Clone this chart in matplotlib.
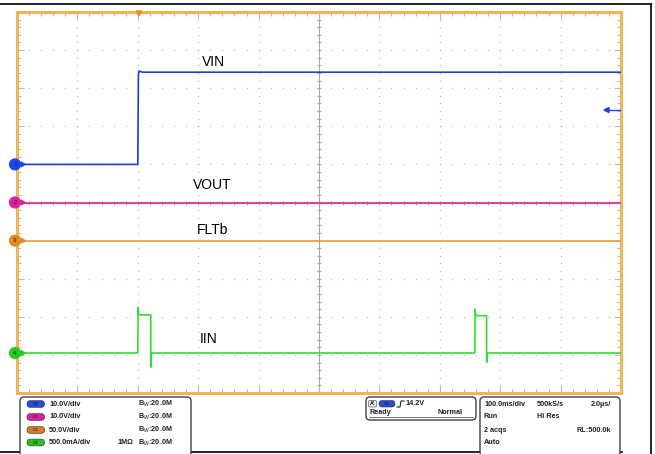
import numpy as np
import matplotlib
matplotlib.use("Agg")
import matplotlib.pyplot as plt
from matplotlib.patches import FancyBboxPatch, Circle, Polygon

plt.rcParams['font.family'] = ['Liberation Sans', 'DejaVu Sans']

# ---------------- data (time in ms, level in divisions) ----------------
vin_t = [-200, 0, 1, 2, 8, 800]
vin_y = [6.0, 6.0, 8.35, 8.45, 8.42, 8.42]
vout_t = [-200, 800]
vout_y = [5.0, 5.0]
fltb_t = [-200, 800]
fltb_y = [4.0, 4.0]
iin_t = [-200, 0, 0.5, 1.5, 3, 21.5, 21.5, 22.0, 22.5, 558, 558.5, 559.5, 561, 577.5, 577.5, 578, 578.5, 800]
iin_y = [1.05, 1.05, 2.25, 2.07, 2.05, 2.05, 0.68, 0.68, 1.05, 1.05, 2.2, 2.05, 2.03, 2.03, 0.81, 0.81, 1.05, 1.05]

labels = ["VIN", "VOUT", "FLTb", "IIN"]
label_pos = [(126, 8.68), (123, 5.45), (123, 4.28), (117, 1.42)]
ch_levels = [6.0, 5.0, 4.0, 1.05]
ch_names = ["1", "2", "3", "4"]
ch_colors = ['#1f3fd6', '#d8289e', '#ee9a2e', '#33dd33']
marker_colors = ['#1e46e8', '#e0209a', '#e08a28', '#22cc22']

ch_scales = ["10.0V/div", "10.0V/div", "50.0V/div", "500.0mA/div"]
ch_bw = ["B$_W$:20.0M"] * 4
trigger_text = "14.2V"
acq_rows = [("100.0ms/div", "500kS/s", "2.0µs/"),
            ("Run", "Hi Res", ""),
            ("2 acqs", "", "RL:500.0k"),
            ("Auto", "", "")]

W, H = 655, 454
fig = plt.figure(figsize=(W / 100, H / 100), dpi=100)

# pixel geometry of the graticule
L, R, T, B = 17, 621, 12, 393
ax = fig.add_axes([L / W, 1 - B / H, (R - L) / W, (B - T) / H])
ax.set_xlim(-200, 800)
ax.set_ylim(0, 10)
frame_col = '#f0b45a'
for s in ax.spines.values():
    s.set_color(frame_col)
    s.set_linewidth(2.2)
ax.xaxis.set_major_locator(plt.MultipleLocator(100))
ax.xaxis.set_minor_locator(plt.MultipleLocator(20))
ax.yaxis.set_major_locator(plt.MultipleLocator(1))
ax.yaxis.set_minor_locator(plt.MultipleLocator(0.2))
ax.tick_params(which='both', direction='in', top=True, right=True, bottom=True, left=True,
               labelbottom=False, labelleft=False, color='#b8b8b8', width=0.8)
ax.tick_params(which='major', length=5)
ax.tick_params(which='minor', length=3)

# dotted graticule
gc = '#c0c0c0'
majx = np.arange(-100, 800, 100)
majy = np.arange(1, 10, 1)
minx = np.arange(-200, 800.1, 20)
miny = np.arange(0, 10.01, 0.2)
gx, gy = np.meshgrid(majx, miny)
ax.scatter(gx.ravel(), gy.ravel(), s=1.1, color=gc, lw=0, zorder=1)
gx, gy = np.meshgrid(minx, majy)
ax.scatter(gx.ravel(), gy.ravel(), s=1.1, color=gc, lw=0, zorder=1)
# center cross
ax.axvline(300, color='#a8a8a8', lw=0.8, zorder=1)
ax.axhline(5, color='#a8a8a8', lw=0.8, zorder=1)
ax.scatter(np.full_like(miny, 300), miny, marker='_', s=12, color='#a8a8a8', lw=0.8, zorder=1)
ax.scatter(minx, np.full_like(minx, 5.0), marker='|', s=12, color='#a8a8a8', lw=0.8, zorder=1)

# traces
ax.plot(vin_t, vin_y, color=ch_colors[0], lw=1.2, zorder=3)
ax.plot(vout_t, vout_y, color=ch_colors[1], lw=1.2, zorder=3)
ax.plot(fltb_t, fltb_y, color=ch_colors[2], lw=1.2, zorder=3)
ax.plot(iin_t, iin_y, color=ch_colors[3], lw=1.2, zorder=3)

for txt, (x, y) in zip(labels, label_pos):
    ax.text(x, y, txt, fontsize=10, ha='center', va='center', color='black', zorder=4)

# overlay in pixel coordinates
ov = fig.add_axes([0, 0, 1, 1])
ov.set_xlim(0, W)
ov.set_ylim(H, 0)
ov.axis('off')
ov.set_zorder(5)

# outer frame lines
ov.plot([0, 651], [4, 4], color='black', lw=1.2)
ov.plot([651, 651], [4, H], color='black', lw=1.2)
ov.plot([0, 622], [452, 452], color='black', lw=1.2)

def ypix(v):
    return B - (v) / 10 * (B - T)

# channel markers on left edge
for lvl, nm, mc in zip(ch_levels, ch_names, marker_colors):
    yp = ypix(lvl)
    ov.add_patch(Circle((15, yp), 5.4, color=mc, zorder=6))
    ov.text(15, yp + 0.3, nm, fontsize=4.5, ha='center', va='center', color='#202020', zorder=7)
    ov.add_patch(Polygon([[21, yp - 2.5], [21, yp + 2.5], [25, yp]], closed=True, color=mc, zorder=6))

# trigger position marker at top
ov.add_patch(Polygon([[136, 11], [142, 11], [139, 16]], closed=True, color='#f08a20', zorder=6))
# trigger level arrow at right
ov.plot([608, 620], [110, 110], color=ch_colors[0], lw=1.0)
ov.add_patch(Polygon([[604, 110], [609, 107.5], [609, 112.5]], closed=True, color=ch_colors[0], zorder=6))

# bottom info boxes
def rbox(x0, y0, x1, y1):
    ov.add_patch(FancyBboxPatch((x0, y0), x1 - x0, y1 - y0,
                                boxstyle="round,pad=0,rounding_size=4",
                                fc='white', ec='#404040', lw=1.0, zorder=5))

rbox(20, 397, 191, 456)
rbox(366, 397, 476, 420)
rbox(480, 397, 620, 456)

fs = 5.2
pill_cols = ['#2a4ad8', '#d2229e', '#d8782a', '#22c422']
rows_y = [404, 417, 430, 442.5]
for i, (yy, sc, bw) in enumerate(zip(rows_y, ch_scales, ch_bw)):
    ov.add_patch(FancyBboxPatch((27, yy - 3.4), 17.5, 6.8, boxstyle="round,pad=0,rounding_size=3.4",
                                fc=pill_cols[i], ec='#303030', lw=0.4, zorder=6))
    ov.text(35.7, yy, "C%d" % (i + 1), fontsize=3.2, ha='center', va='center', color='#101010', zorder=7)
    ov.text(49, yy, sc, fontsize=fs, ha='left', va='center', fontweight='bold', color='#202020', zorder=7)
    ov.text(138, yy, bw, fontsize=fs, ha='left', va='center', fontweight='bold', color='#202020', zorder=7)
ov.text(117, rows_y[3], "1MΩ", fontsize=fs, ha='left', va='center', fontweight='bold', color='#202020', zorder=7)

# trigger box
ov.add_patch(FancyBboxPatch((368.5, 400.5), 8, 6.5, boxstyle="round,pad=0,rounding_size=1",
                            fc='#e8e8e8', ec='#404040', lw=0.4, zorder=6))
ov.text(372.5, 403.8, "A'", fontsize=3.8, ha='center', va='center', fontweight='bold', zorder=7)
ov.add_patch(FancyBboxPatch((379, 400.5), 16, 6.5, boxstyle="round,pad=0,rounding_size=3.2",
                            fc='#2a4ad8', ec='#303030', lw=0.4, zorder=6))
ov.text(387, 403.8, "C1", fontsize=3.2, ha='center', va='center', color='#101010', zorder=7)
ov.plot([397, 400, 401, 404], [407, 407, 401, 401], color='#202020', lw=0.8, zorder=7)
ov.text(405, 403.8, trigger_text, fontsize=fs, ha='left', va='center', fontweight='bold', color='#202020', zorder=7)
ov.text(369, 413, "Ready", fontsize=fs, ha='left', va='center', fontweight='bold', color='#202020', zorder=7)
ov.text(438, 413, "Normal", fontsize=fs, ha='left', va='center', fontweight='bold', color='#202020', zorder=7)
ov.plot([369, 473], [416.5, 416.5], color='#404040', lw=0.5, zorder=7)

# acquisition box
for (a, b, c), yy in zip(acq_rows, rows_y):
    ov.text(484, yy, a, fontsize=fs, ha='left', va='center', fontweight='bold', color='#202020', zorder=7)
    if b:
        ov.text(537, yy, b, fontsize=fs, ha='left', va='center', fontweight='bold', color='#202020', zorder=7)
    if c:
        ov.text(611, yy, c, fontsize=fs, ha='right', va='center', fontweight='bold', color='#202020', zorder=7)

fig.savefig("out.png", dpi=100, facecolor='white')
